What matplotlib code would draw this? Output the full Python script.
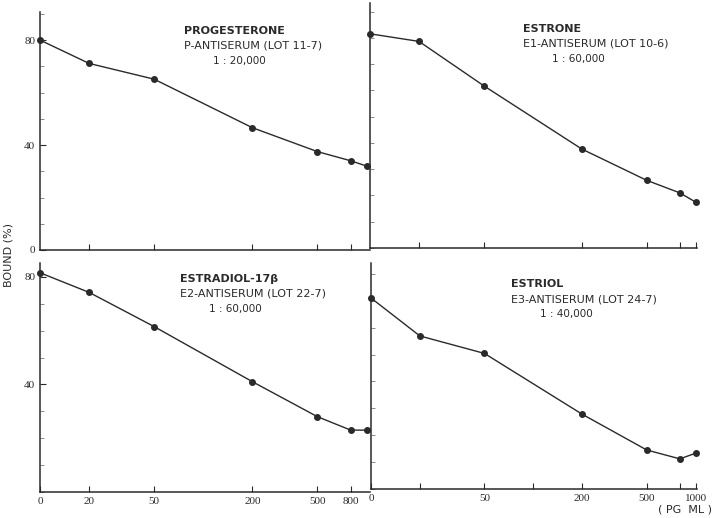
import numpy as np
import matplotlib
matplotlib.use("Agg")
import matplotlib.pyplot as plt

# ---- data ----
conc = [0, 20, 50, 200, 500, 800, 1000]          # PG/ML
progesterone = [80.0, 71.1, 65.1, 46.6, 37.5, 34.0, 32.0]
estrone = [81.6, 78.7, 61.8, 37.7, 25.8, 21.0, 17.5]
estradiol = [81.5, 74.2, 61.5, 41.0, 28.0, 23.0, 23.0]
estriol = [71.0, 56.9, 50.4, 27.8, 14.5, 11.2, 13.3]

titles = [
    ["PROGESTERONE", "P-ANTISERUM (LOT 11-7)", "1 : 20,000"],
    ["ESTRONE", "E1-ANTISERUM (LOT 10-6)", "1 : 60,000"],
    ["ESTRADIOL-17\u03b2", "E2-ANTISERUM (LOT 22-7)", "1 : 60,000"],
    ["ESTRIOL", "E3-ANTISERUM (LOT 24-7)", "1 : 40,000"],
]
bl_ticks = [0, 20, 50, 200, 500, 800]
br_ticks = [0, 20, 50, 100, 200, 500, 800, 1000]
br_labels = ["0", "", "50", "", "200", "500", "", "1000"]
y_ticks = [0, 40, 80]

W, H = 715, 518
fig = plt.figure(figsize=(W / 100, H / 100), dpi=100)
ink = "#2a2a2a"
serif = "Liberation Serif"


def pos(v):
    v = np.asarray(v, dtype=float)
    return np.where(v == 0, 10.0, v)


def make_ax(left, right, y0, ytop):
    return fig.add_axes([left / W, 1 - y0 / H, (right - left) / W, (y0 - ytop) / H])


def style(ax, xmax, ymax):
    ax.set_xscale("log")
    ax.set_xlim(10, xmax)
    ax.set_ylim(0, ymax)
    for s in ("top", "right"):
        ax.spines[s].set_visible(False)
    for s in ("left", "bottom"):
        ax.spines[s].set_color(ink)
        ax.spines[s].set_linewidth(1.1)
    ax.minorticks_off()
    ax.tick_params(direction="in", length=4, color=ink, labelsize=8,
                   labelcolor=ink, width=0.8)
    ax.set_yticks(np.arange(0, ymax, 10), minor=True)
    ax.tick_params(axis="y", which="minor", direction="in", length=3, color="#777777")
    ax.patch.set_alpha(0)


def series(ax, y):
    ax.plot(pos(conc), y, color=ink, lw=1.0, marker="o", ms=4,
            mfc=ink, mec=ink, clip_on=False, zorder=3)


def label_block(x, y, lines):
    fig.text(x / W, 1 - y / H, lines[0], fontsize=8, color=ink,
             fontweight="bold", va="center", ha="left")
    fig.text(x / W, 1 - (y + 15) / H, lines[1], fontsize=8, color=ink,
             va="center", ha="left")
    fig.text((x + 29) / W, 1 - (y + 30) / H, lines[2], fontsize=7.5, color=ink,
             va="center", ha="left")


# top-left
ymax_tl = 90.7
ax1 = make_ax(40, 370, 250, 12)
style(ax1, 1050, ymax_tl)
series(ax1, progesterone)
ax1.set_xticks(pos([20, 50, 200, 500, 800]))
ax1.set_xticklabels([])
ax1.set_yticks(y_ticks)
ax1.set_yticklabels([str(t) for t in y_ticks], family=serif)

# top-right
ymax_tr = (248 - 3) / 2.625
ax2 = make_ax(370, 697, 248, 3)
style(ax2, 1020, ymax_tr)
series(ax2, estrone)
ax2.set_xticks(pos([20, 50, 200, 500, 800, 1000]))
ax2.set_xticklabels([])
ax2.set_yticks([])

# bottom-left
ymax_bl = (492 - 263) / 2.69
ax3 = make_ax(40, 370, 492, 263)
style(ax3, 1050, ymax_bl)
series(ax3, estradiol)
ax3.set_xticks(pos(bl_ticks))
ax3.set_xticklabels([str(t) for t in bl_ticks], family=serif)
ax3.set_yticks([40, 80])
ax3.set_yticklabels(["40", "80"], family=serif)

# bottom-right
ymax_br = (489 - 263) / 2.69
ax4 = make_ax(371, 697, 489, 263)
style(ax4, 1020, ymax_br)
series(ax4, estriol)
ax4.set_xticks(pos(br_ticks))
ax4.set_xticklabels(br_labels, family=serif)
ax4.set_yticks([])

label_block(184, 31, titles[0])
label_block(523, 29, titles[1])
label_block(180, 279, titles[2])
label_block(511, 284, titles[3])

fig.text(9 / W, 1 - 255 / H, "BOUND (%)", rotation=90, fontsize=8, color=ink,
         va="center", ha="center")
fig.text(685 / W, 1 - 509 / H, "( PG  ML )", fontsize=8, color=ink,
         va="center", ha="center")

fig.savefig("out.png", dpi=100, facecolor="white")
